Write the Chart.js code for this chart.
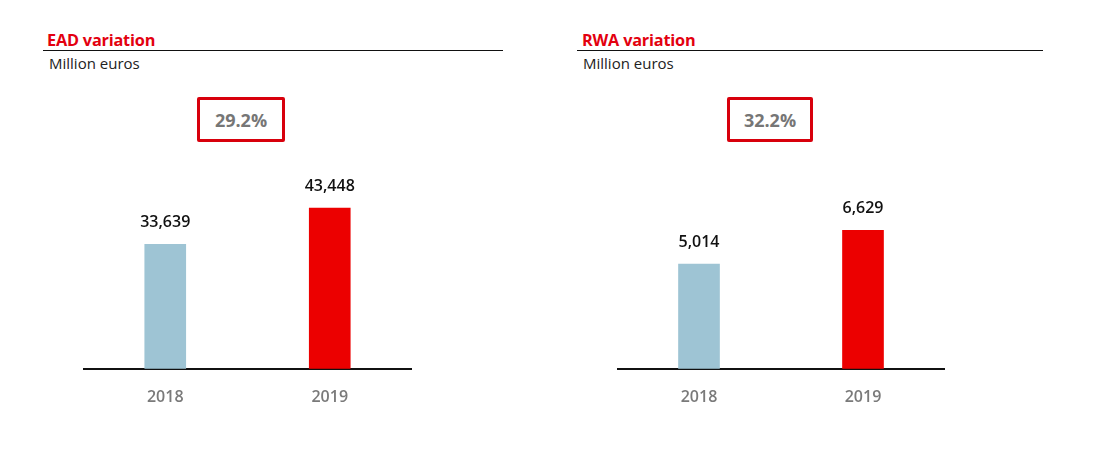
<!DOCTYPE html>
<html>
<head>
<meta charset="utf-8">
<script src="https://cdn.jsdelivr.net/npm/chart.js@4.4.1/dist/chart.umd.min.js"></script>
<style>
  html, body { margin:0; padding:0; background:#fff; width:1097px; height:457px; overflow:hidden; }
  .abs { position:absolute; }
  .title { font-family:"Open Sans", sans-serif; font-weight:700; font-size:16.3px; color:#e3000f; line-height:20px; letter-spacing:-0.2px; }
  .rule { height:0; border-top:1.5px solid #111; }
  .sub { font-family:"Open Sans", sans-serif; font-size:15px; color:#222; line-height:18px; }
  .box { border:3px solid #d8000c; border-radius:2px; box-sizing:border-box; font-family:"Open Sans", sans-serif; font-weight:700; font-size:18px; color:#767676; display:flex; align-items:center; justify-content:center; }
</style>
</head>
<body>
<div class="abs title" style="left:47px; top:30px;">EAD variation</div>
<div class="abs rule" style="left:43px; top:50px; width:460px;"></div>
<div class="abs sub" style="left:49px; top:54px;">Million euros</div>
<div class="abs box" id="boxL" style="left:197px; top:97px; width:88px; height:45px;"></div>

<div class="abs title" style="left:582px; top:30px;">RWA variation</div>
<div class="abs rule" style="left:577px; top:50px; width:466px;"></div>
<div class="abs sub" style="left:583px; top:54px;">Million euros</div>
<div class="abs box" id="boxR" style="left:727px; top:97px; width:86px; height:45px;"></div>

<div class="abs" style="left:83px; top:147px; width:329px; height:279px;"><canvas id="cL"></canvas></div>
<div class="abs" style="left:617px; top:160px; width:328px; height:266px;"><canvas id="cR"></canvas></div>

<script>
const categories = ["2018", "2019"];
const eadValues = [33639, 43448];
const rwaValues = [5014, 6629];
const eadVariation = "29.2%";
const rwaVariation = "32.2%";
const barColors = ["#9ec4d4", "#ec0000"];

document.getElementById("boxL").textContent = eadVariation;
document.getElementById("boxR").textContent = rwaVariation;

const valueLabels = {
  id: "valueLabels",
  afterDatasetsDraw(chart) {
    const ctx = chart.ctx;
    const meta = chart.getDatasetMeta(0);
    const data = chart.data.datasets[0].data;
    ctx.save();
    ctx.font = "600 16px 'Open Sans', sans-serif";
    ctx.fillStyle = "#111";
    ctx.textAlign = "center";
    ctx.textBaseline = "middle";
    meta.data.forEach((bar, i) => {
      ctx.fillText(data[i].toLocaleString("en-US"), bar.x, bar.y - 22);
    });
    ctx.restore();
  }
};

function makeChart(id, values, maxY) {
  return new Chart(document.getElementById(id), {
    type: "bar",
    data: {
      labels: categories,
      datasets: [{
        data: values,
        backgroundColor: barColors,
        barThickness: 41,
        borderWidth: 0
      }]
    },
    options: {
      responsive: true,
      maintainAspectRatio: false,
      animation: false,
      layout: { padding: 0 },
      plugins: { legend: { display: false }, tooltip: { enabled: false } },
      scales: {
        x: {
          grid: { display: false, drawTicks: false },
          border: { display: true, color: "#111", width: 2 },
          ticks: { color: "#7a7a7a", font: { family: "'Open Sans', sans-serif", size: 16, weight: "600" }, padding: 19 }
        },
        y: { display: false, min: 0, max: maxY }
      }
    },
    plugins: [valueLabels]
  });
}

makeChart("cL", eadValues, 60000);
makeChart("cR", rwaValues, 10000);
</script>
</body>
</html>
